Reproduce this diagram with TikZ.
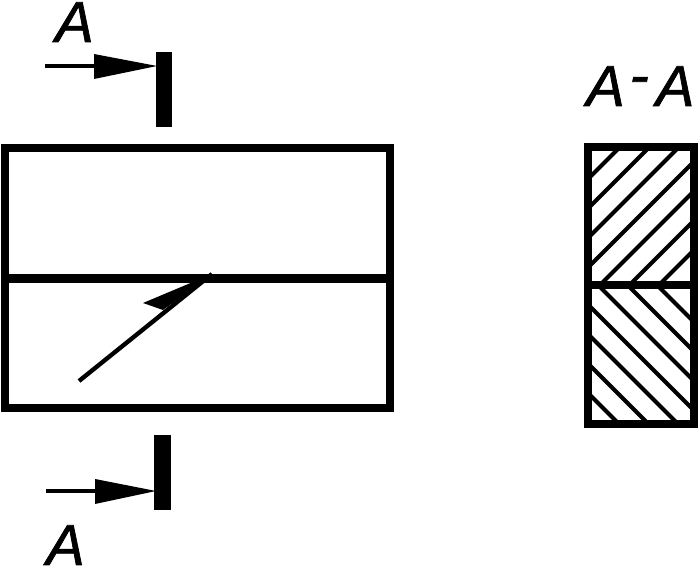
\documentclass[tikz,border=0pt]{standalone}
\usepackage{fontspec}
\setmainfont[ItalicFeatures={FakeBold=1.2}]{Liberation Sans}
\tikzset{
  outline/.style={line width=6pt,line join=miter},
  thinline/.style={line width=3.1pt},
  hatchline/.style={line width=3pt},
  cutlabel/.style={font=\fontsize{41}{41}\selectfont\itshape,inner sep=0pt,anchor=base west},
}
\begin{document}
\begin{tikzpicture}[x=.025cm,y=.025cm]
\useasboundingbox (0,0) rectangle (699,567);
% front view
\draw[outline] (5,159) rectangle (390,419);
\draw[outline] (1,288.5)--(394,288.5);
% upper cut mark
\fill (156,440) rectangle (172,515);
\coordinate (uppertail) at (45,501);
\coordinate (uppertip) at (157,501);
\draw[thinline] (uppertail)--(95,501);
\fill (94,513)--(uppertip)--(94,488)--cycle;
\node[cutlabel] (upperA) at (55,525) {A};
% lower cut mark
\fill (154,57) rectangle (171,132);
\coordinate (lowertail) at (46,76);
\coordinate (lowertip) at (156,76);
\draw[thinline] (lowertail)--(96,76);
\fill (95,88)--(lowertip)--(95,63)--cycle;
\node[cutlabel] (lowerA) at (46,2) {A};
% weld arrow
\coordinate (weldtail) at (79,186);
\coordinate (weldtip) at (212,293);
\draw[thinline] (weldtail)--(weldtip);
\fill (weldtip)--(143,264)--(163,257)--cycle;
% section
\begin{scope}
\clip (588,282) rectangle (694,420);
\foreach \c in {0,...,6}
  \draw[hatchline] (588,388-\c*29.5)--++(160,160);
\end{scope}
\begin{scope}
\clip (588,143) rectangle (694,282);
\foreach \c in {0,...,6}
  \draw[hatchline] (588,174+\c*29.5)--++(160,-160);
\end{scope}
\draw[outline] (588,143) rectangle (694,420);
\draw[outline] (584,282)--(698,282);
\node[cutlabel] (sectionA) at (586,461) {A\kern3.5pt\raisebox{8pt}{-}\kern5pt A};
\end{tikzpicture}
\end{document}
